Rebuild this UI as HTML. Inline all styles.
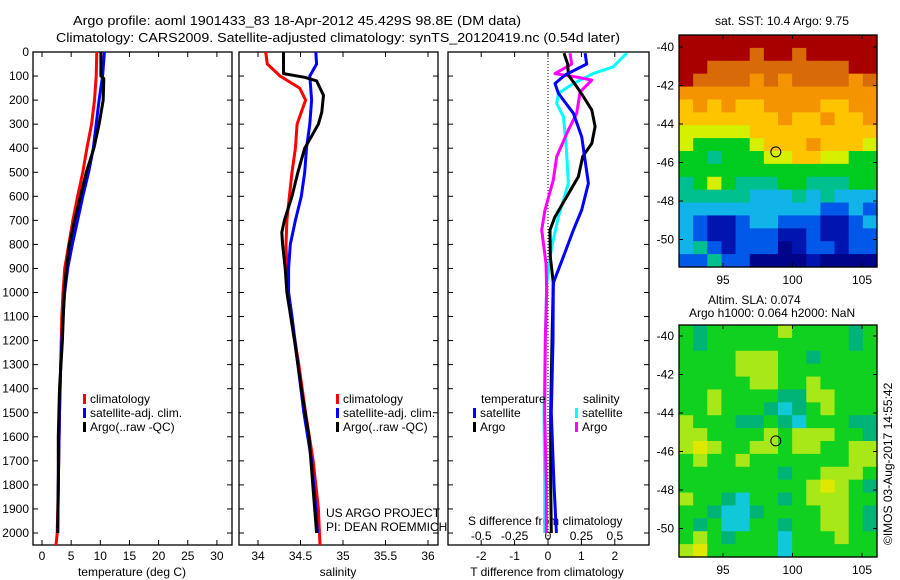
<!DOCTYPE html>
<html><head><meta charset="utf-8">
<style>
html,body{margin:0;padding:0;background:#fff;}
svg{display:block;font-family:"Liberation Sans",sans-serif;}
text{font-size:12px;fill:#000;}
</style></head>
<body>
<svg id="chart" width="900" height="580" viewBox="0 0 900 580" xmlns="http://www.w3.org/2000/svg">
<text x="73" y="25" textLength="448" lengthAdjust="spacingAndGlyphs" style="font-size:13px">Argo profile: aoml 1901433_83 18-Apr-2012 45.429S 98.8E (DM data)</text>
<text x="56" y="42" textLength="564" lengthAdjust="spacingAndGlyphs" style="font-size:13px">Climatology: CARS2009. Satellite-adjusted climatology: synTS_20120419.nc (0.54d later)</text>
<text x="715" y="25" textLength="134" lengthAdjust="spacingAndGlyphs">sat. SST: 10.4 Argo: 9.75</text>
<text x="708" y="304">Altim. SLA: 0.074</text>
<text x="689" y="317">Argo h1000: 0.064 h2000: NaN</text>
<text transform="translate(892,545) rotate(-90)" style="font-size:12px">©IMOS 03-Aug-2017 14:55:42</text>
<g id="g"></g>
</svg>
<script>
// ---------- data ----------
const depthTicks = [0,100,200,300,400,500,600,700,800,900,1000,1100,1200,1300,1400,1500,1600,1700,1800,1900,2000];
const tempTicks = [0,5,10,15,20,25,30];
const salTicks = [34,34.5,35,35.5,36];
const salTickLabels = ["34","34.5","35","35.5","36"];
const tdiffTicks = [-2,-1,0,1,2];
const sdiffTickLabels = ["-0.5","-0.25","0","0.25","0.5"];

const climTDepth = [0,100,200,300,400,500,600,700,800,900,1000,1100,1300,1500,1800,2000,2050];
const climT      = [9.4,9.3,9.0,8.5,7.7,7.0,6.1,5.3,4.6,3.9,3.6,3.4,3.2,3.0,2.8,2.6,2.4];
const satTDepth  = [0,100,200,300,400,500,600,700,800,900,1000,1100,1300,1500,1800,2000];
const satT       = [10.7,10.4,9.8,9.3,8.8,8.0,7.0,6.1,5.2,4.4,3.9,3.6,3.2,3.0,2.8,2.7];
const argoTDepth = [0,100,110,200,300,400,500,600,700,800,900,1000,1200,1400,1600,1800,2000];
const argoT      = [10.1,10.1,10.6,10.5,9.8,8.9,7.6,6.6,5.6,4.7,4.2,3.8,3.5,3.0,2.8,2.8,2.7];

const climSDepth = [0,50,100,150,200,250,300,400,500,600,700,800,900,1000,1100,1300,1500,1700,1900,2050];
const climS      = [34.09,34.11,34.26,34.49,34.56,34.51,34.46,34.44,34.40,34.37,34.34,34.33,34.34,34.35,34.39,34.48,34.56,34.65,34.71,34.73];
const satSDepth  = [0,50,100,200,300,400,500,600,700,800,900,1000,1100,1300,1500,1700,1900,2000];
const satS       = [34.68,34.69,34.61,34.63,34.61,34.57,34.55,34.51,34.44,34.38,34.36,34.36,34.40,34.47,34.54,34.63,34.68,34.70];
const argoSDepth = [0,90,105,120,180,250,300,350,400,450,500,600,700,750,800,900,1000,1200,1400,1600,2000];
const argoS      = [34.30,34.30,34.55,34.69,34.77,34.75,34.71,34.63,34.55,34.51,34.47,34.40,34.31,34.28,34.29,34.32,34.34,34.43,34.51,34.60,34.69];

// difference panel (T units; S differences shown x4 on same axis)
const dTArgoDepth = [5,50,96,144,186,241,310,380,435,518,602,685,740,851,960,1200,1500,1800,2000];
const dTArgo      = [0.48,0.59,0.61,0.86,1.06,1.31,1.41,1.31,1.04,0.91,0.56,0.21,0.06,0.07,0.16,0.12,0.08,0.08,0.1];
const dTSatDepth  = [5,50,96,131,172,255,352,421,546,657,740,851,960,1200,1500,1800,2000];
const dTSat       = [1.11,1.16,0.51,0.21,0.31,0.76,1.01,1.08,1.21,1.01,0.76,0.46,0.16,0.15,0.1,0.18,0.25];
const dSArgoDepth = [5,50,90,105,117,166,255,324,435,532,657,740,879,990,1200,1500,1800,2000];
const dSArgo      = [0.66,0.71,0.21,0.9,1.31,0.96,0.86,0.61,0.26,0.16,-0.09,-0.19,-0.06,-0.04,-0.08,-0.1,-0.05,-0.05];
const dSSatDepth  = [5,20,62,90,131,172,214,269,380,546,685,810,960,1200,1500,1800,2000];
const dSSat       = [2.36,2.25,1.95,1.35,0.76,0.31,0.26,0.46,0.54,0.61,0.31,0.11,-0.04,-0.08,-0.12,-0.1,-0.1];

// map data (character-coded colour grids, top row = north)
const latTicks = [-40,-42,-44,-46,-48,-50];
const lonTicks = [95,100,105];
const argoLon = 98.8, argoLat = -45.45;
const sstGrid = [
"RRRRRRRRRRRRRR","RRRRRORRORRRRR","RROOOOOOOOOORR","ROOOOoOoOOOOoO",
"oooooooooooooo","YoYoYYooooYYoo","YYYYYYYoYYoYYo","yyyyyYYYYYYYYY",
"yGGGGyYYYoYYYy","GGgGGGyyYYyyGG","GGGGGGGGGGGGGG","gGyGgggGGgggGG",
"gggggcccgcgccc","ccccccccccbbcb","cbBBbccbbbBBbc","cbBBbbbBBbBBbb",
"cgbBbbbNBbbBbb","bbgbbNNNNBNNNN"];
const slaGrid = [
"GtGGGGGyGGGGtG","GtGGGGGGGGGGtG","GGGGyyyGGtGGGG","GGGGyyyGGGGGGG",
"GGGGGyyGGyGGGG","GGyGGGGttyyGGG","GGyGGGtctGyGGG","yGGGttGtcGGGtt",
"yyGGGGyGyyyGGt","yYyGGyyGyyGGyy","GyGGyGGGGGGGyy","GGGGGGGtGGyyyG",
"GGGGGGGGGyYyGt","yGGtcGGtGyyyGG","GGtcctGGGGyyGt","GtGccGGtGGyyGt",
"GyGtGGGcGGGyGG","yYGGGGGcGGGGGG"];
const sstColors = {R:"#a80000",O:"#d86a08",o:"#f39400",Y:"#ffc400",y:"#d4f000",G:"#00cc20",g:"#00c090",c:"#10b4e8",b:"#0058e8",B:"#0014b0",N:"#000488"};
const slaColors = {G:"#10d020",y:"#a8e818",Y:"#e0e800",t:"#00b478",c:"#10c8d8"};

// ---------- scales ----------
const Y0 = 52, DY = 0.2405;
const yD = d => Y0 + d*DY;
const xT = t => 42 + t*5.83;
const xS = s => 258 + (s-34)*85;
const xDiff = v => 548 + v*33.4;
const TOP = 52, BOT = 545;

const NS = "http://www.w3.org/2000/svg";
const g = document.getElementById('g');
function el(tag, attrs, parent){
  const e = document.createElementNS(NS, tag);
  for (const k in attrs) e.setAttribute(k, attrs[k]);
  (parent||g).appendChild(e);
  return e;
}
function txt(x,y,s,anchor,parent){
  const t = el('text',{x:x,y:y,'text-anchor':anchor||'start'},parent);
  t.textContent = s; return t;
}

function panel(name, x0, x1){
  const grp = el('g',{});
  
  
  const r = el('rect',{x:x0,y:TOP,width:x1-x0,height:BOT-TOP,fill:'#fff',stroke:'#000','stroke-width':1.3},grp);
  
  
  depthTicks.forEach(d=>{
    el('line',{x1:x0,x2:x0+5,y1:yD(d),y2:yD(d),stroke:'#000'},grp);
    el('line',{x1:x1-5,x2:x1,y1:yD(d),y2:yD(d),stroke:'#000'},grp);
  });
  return grp;
}
function line(xs, ds, fx, color, name, parent){
  const pts = ds.map((d,i)=>fx(xs[i]).toFixed(1)+','+yD(d).toFixed(1)).join(' ');
  const p = el('polyline',{points:pts,fill:'none',stroke:color,'stroke-width':3,'stroke-linejoin':'round'},parent);
  
  
}
function legendEntry(x,y,color,label,parent){
  const lg = el('g',{},parent);
  
  
  if (color) el('rect',{x:x,y:y-9,width:3,height:10,fill:color},lg);
  txt(x+7,y,label,'start',lg);
}

// ---- panel 1: temperature ----
const p1 = panel('temperature-panel', 33, 232);
depthTicks.forEach(d=>{ txt(29, yD(d)+4, String(d), 'end', p1); });
tempTicks.forEach(t=>{
  el('line',{x1:xT(t),x2:xT(t),y1:TOP,y2:TOP+5,stroke:'#000'},p1);
  el('line',{x1:xT(t),x2:xT(t),y1:BOT-5,y2:BOT,stroke:'#000'},p1);
  txt(xT(t), 560, String(t), 'middle', p1);
});
const xl1 = txt(132, 576, 'temperature (deg C)', 'middle', p1);

line(climT, climTDepth, xT, '#ff0000', 'climatology-temperature-line', p1);
line(satT, satTDepth, xT, '#0000ff', 'satellite-temperature-line', p1);
line(argoT, argoTDepth, xT, '#000000', 'argo-temperature-line', p1);
legendEntry(83,403,'#ff0000','climatology',p1);
legendEntry(83,417,'#0000ff','satellite-adj. clim.',p1);
legendEntry(83,431,'#000000','Argo(..raw -QC)',p1);

// ---- panel 2: salinity ----
const p2 = panel('salinity-panel', 239, 438);
salTicks.forEach((s,i)=>{
  el('line',{x1:xS(s),x2:xS(s),y1:TOP,y2:TOP+5,stroke:'#000'},p2);
  el('line',{x1:xS(s),x2:xS(s),y1:BOT-5,y2:BOT,stroke:'#000'},p2);
  txt(xS(s), 560, salTickLabels[i], 'middle', p2);
});
const xl2 = txt(338, 576, 'salinity', 'middle', p2);

line(climS, climSDepth, xS, '#ff0000', 'climatology-salinity-line', p2);
line(satS, satSDepth, xS, '#0000ff', 'satellite-salinity-line', p2);
line(argoS, argoSDepth, xS, '#000000', 'argo-salinity-line', p2);
legendEntry(336,403,'#ff0000','climatology',p2);
legendEntry(336,417,'#0000ff','satellite-adj. clim.',p2);
legendEntry(336,431,'#000000','Argo(..raw -QC)',p2);
txt(326,517,'US ARGO PROJECT','start',p2);
txt(326,531,'PI: DEAN ROEMMICH','start',p2);

// ---- panel 3: differences ----
const p3 = panel('difference-panel', 448, 649);
el('line',{x1:xDiff(0),x2:xDiff(0),y1:TOP,y2:BOT,stroke:'#000','stroke-dasharray':'1,2'},p3);
tdiffTicks.forEach(v=>{
  el('line',{x1:xDiff(v),x2:xDiff(v),y1:TOP,y2:TOP+5,stroke:'#000'},p3);
  el('line',{x1:xDiff(v),x2:xDiff(v),y1:BOT-5,y2:BOT,stroke:'#000'},p3);
  txt(xDiff(v), 560, String(v), 'middle', p3);
});
tdiffTicks.forEach((v,i)=>{ txt(xDiff(v), 540, sdiffTickLabels[i], 'middle', p3); });
txt(468, 525, 'S difference from climatology', 'start', p3);
const xl3 = txt(547, 576, 'T difference from climatology', 'middle', p3);

line(dSSat, dSSatDepth, xDiff, '#00ffff', 'salinity-satellite-diff-line', p3);
line(dSArgo, dSArgoDepth, xDiff, '#ff00ff', 'salinity-argo-diff-line', p3);
line(dTArgo, dTArgoDepth, xDiff, '#000000', 'temperature-argo-diff-line', p3);
line(dTSat, dTSatDepth, xDiff, '#0000ff', 'temperature-satellite-diff-line', p3);
txt(481,403,'temperature','start',p3);
txt(583,403,'salinity','start',p3);
legendEntry(473,417,'#0000ff','satellite',p3);
legendEntry(473,431,'#000000','Argo',p3);
legendEntry(575,417,'#00ffff','satellite',p3);
legendEntry(575,431,'#ff00ff','Argo',p3);

// ---- maps ----
const MX0 = 679, MX1 = 877;
const lonX = lon => 723 + (lon-95)*13.9;
function map(name, top, bottom, grid, colors, lat40){
  const grp = el('g',{});
  
  
  const latY = lat => lat40 + (-40-lat)*19.25;
  const rows = grid.length, cols = grid[0].length;
  const cw = (MX1-MX0)/cols, ch = (bottom-top)/rows;
  grid.forEach((row,r)=>{
    for (let c=0;c<cols;c++){
      el('rect',{x:(MX0+c*cw).toFixed(2),y:(top+r*ch).toFixed(2),width:(cw+0.6).toFixed(2),height:(ch+0.6).toFixed(2),fill:colors[row[c]]},grp);
    }
  });
  el('rect',{x:MX0,y:top,width:MX1-MX0,height:bottom-top,fill:'none',stroke:'#000','stroke-width':1.3},grp);
  latTicks.forEach(l=>{
    el('line',{x1:MX0,x2:MX0+4,y1:latY(l),y2:latY(l),stroke:'#000'},grp);
    el('line',{x1:MX1-4,x2:MX1,y1:latY(l),y2:latY(l),stroke:'#000'},grp);
    txt(674, latY(l)+4, String(l), 'end', grp);
  });
  lonTicks.forEach(l=>{
    el('line',{x1:lonX(l),x2:lonX(l),y1:top,y2:top+4,stroke:'#000'},grp);
    el('line',{x1:lonX(l),x2:lonX(l),y1:bottom-4,y2:bottom,stroke:'#000'},grp);
    txt(lonX(l), bottom+17, String(l), 'middle', grp);
  });
  const m = el('circle',{cx:lonX(argoLon),cy:latY(argoLat),r:5,fill:'none',stroke:'#000','stroke-width':1},grp);
  
  
}
map('sst-map', 35, 267, sstGrid, sstColors, 47);
map('sla-map', 325, 557, slaGrid, slaColors, 336);
</script>
</body></html>
